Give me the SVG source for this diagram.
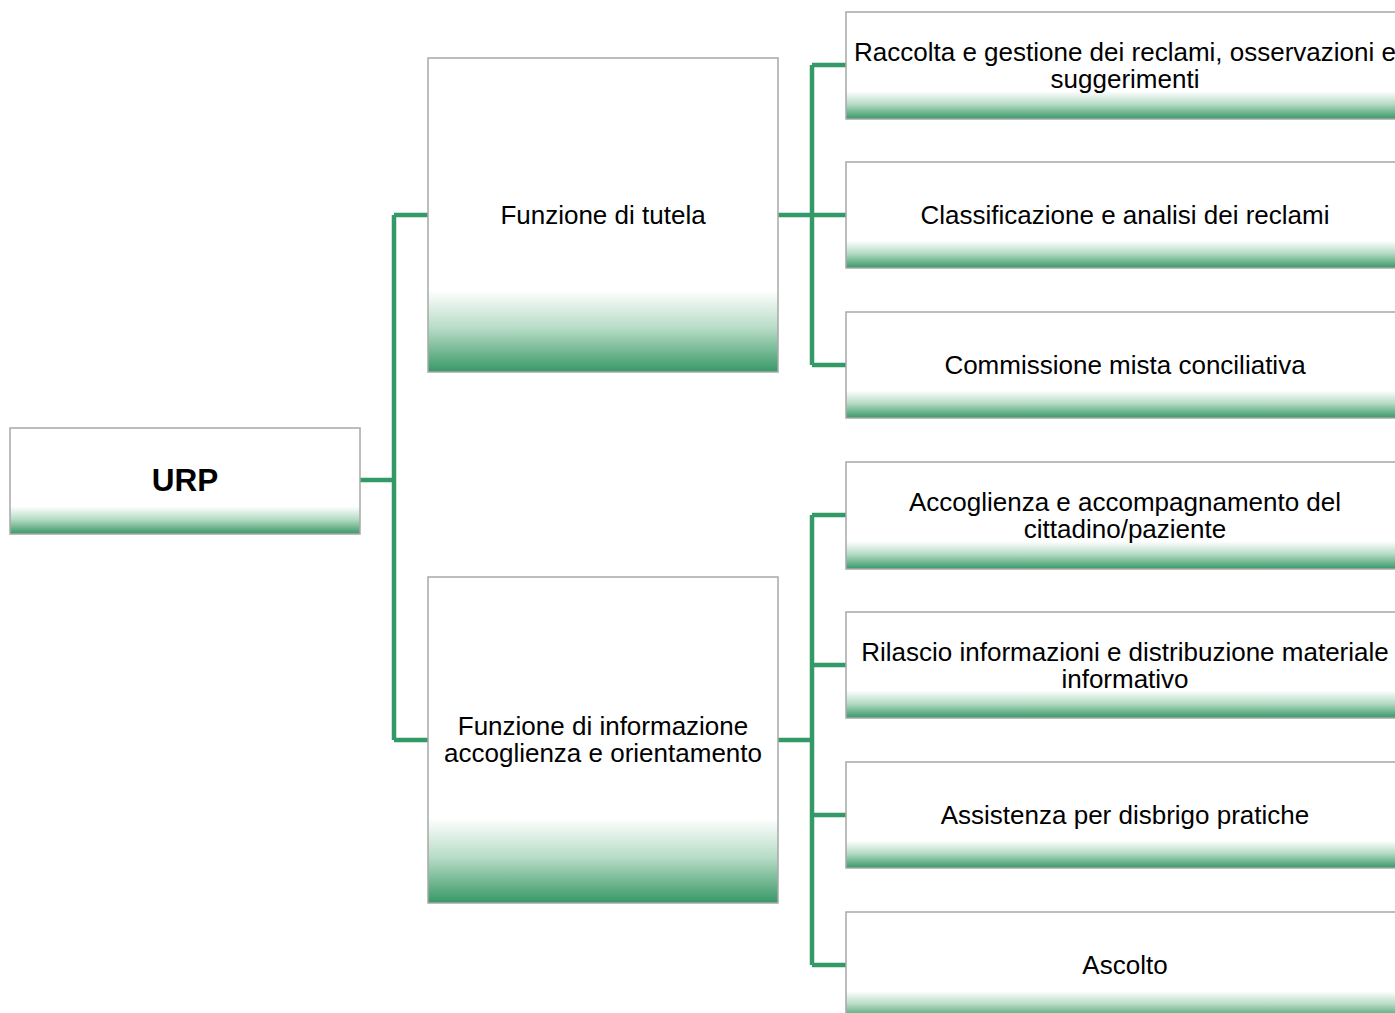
<svg xmlns="http://www.w3.org/2000/svg" width="1395" height="1013" viewBox="0 0 1395 1013">
<defs>
<linearGradient id="g" x1="0" y1="0" x2="0" y2="1">
<stop offset="0" stop-color="#ffffff"/>
<stop offset="0.74" stop-color="#ffffff"/>
<stop offset="0.86" stop-color="#b7dcc6"/>
<stop offset="1" stop-color="#389866"/>
</linearGradient>
</defs>
<style>
.box{fill:url(#g);stroke:#a8a8a8;stroke-width:1.5}
.t{font-family:"Liberation Sans",Arial,sans-serif;font-size:26px;fill:#000;text-anchor:middle}
.b{font-weight:bold;font-size:31.5px}
.c{fill:none;stroke:#339966;stroke-width:4.5}
</style>
<rect width="1395" height="1013" fill="#fff"/>
<g id="connectors">
<path class="c" d="M360 480H394M394 215V740M394 215H428M394 740H428"/>
<path class="c" d="M778 215H812M812 65V365M812 65H846M812 215H846M812 365H846"/>
<path class="c" d="M778 740H812M812 515V965M812 515H846M812 665H846M812 815H846M812 965H846"/>
</g>
<g id="urp"><rect class="box" x="10" y="428" width="350" height="106"/><text class="t b" x="185" y="491">URP</text></g>
<g id="tutela"><rect class="box" x="428" y="58" width="350" height="314"/><text class="t" x="603" y="224">Funzione di tutela</text></g>
<g id="informazione"><rect class="box" x="428" y="577" width="350" height="326"/><text class="t" x="603" y="735">Funzione di informazione</text><text class="t" x="603" y="762">accoglienza e orientamento</text></g>
<g id="raccolta"><rect class="box" x="846" y="12" width="558" height="107"/><text class="t" x="1125" y="61">Raccolta e gestione dei reclami, osservazioni e</text><text class="t" x="1125" y="88">suggerimenti</text></g>
<g id="classificazione"><rect class="box" x="846" y="162" width="558" height="106"/><text class="t" x="1125" y="224">Classificazione e analisi dei reclami</text></g>
<g id="commissione"><rect class="box" x="846" y="312" width="558" height="106"/><text class="t" x="1125" y="374">Commissione mista conciliativa</text></g>
<g id="accoglienza"><rect class="box" x="846" y="462" width="558" height="107"/><text class="t" x="1125" y="511">Accoglienza e accompagnamento del</text><text class="t" x="1125" y="538">cittadino/paziente</text></g>
<g id="rilascio"><rect class="box" x="846" y="612" width="558" height="106"/><text class="t" x="1125" y="661">Rilascio informazioni e distribuzione materiale</text><text class="t" x="1125" y="688">informativo</text></g>
<g id="assistenza"><rect class="box" x="846" y="762" width="558" height="106"/><text class="t" x="1125" y="824">Assistenza per disbrigo pratiche</text></g>
<g id="ascolto"><rect class="box" x="846" y="912" width="558" height="107"/><text class="t" x="1125" y="974">Ascolto</text></g>
</svg>
